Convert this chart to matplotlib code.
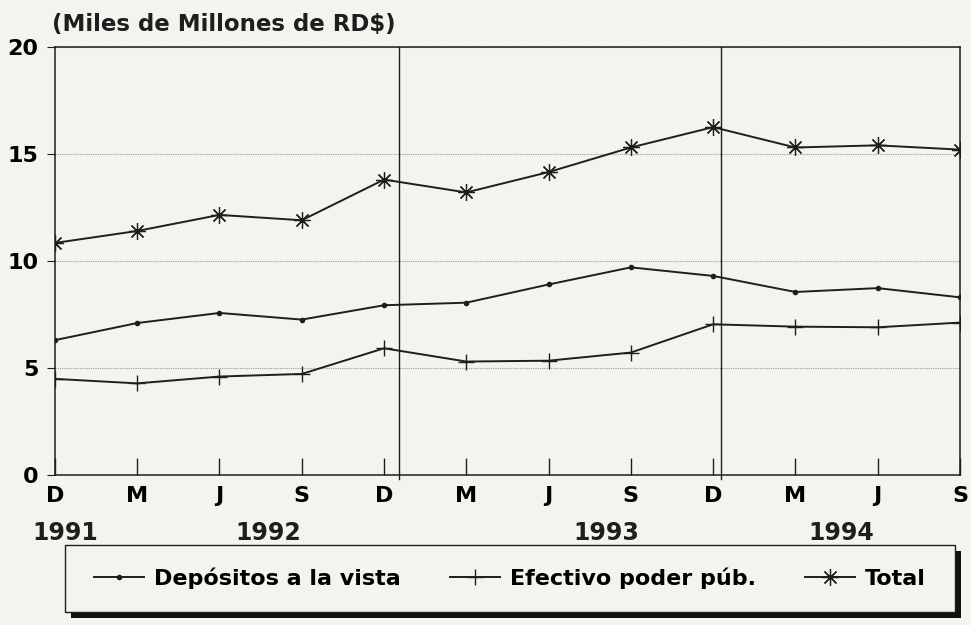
import numpy as np
import matplotlib.pyplot as plt
from matplotlib.patches import Rectangle

# months (D 1991 .. S 1994), billions of RD$
months = ['D', 'M', 'J', 'S', 'D', 'M', 'J', 'S', 'D', 'M', 'J', 'S']
years = ['1991', '1992', '1993', '1994']
year_pos = [0.12, 2.59, 6.7, 9.56]
year_sep = [4.18, 8.1]

depositos = [6.3, 7.1, 7.57, 7.26, 7.93, 8.05, 8.9, 9.7, 9.3, 8.55, 8.73, 8.3]
efectivo = [4.49, 4.28, 4.6, 4.72, 5.92, 5.3, 5.34, 5.72, 7.04, 6.93, 6.9, 7.12]
total = [10.84, 11.4, 12.15, 11.9, 13.8, 13.2, 14.15, 15.3, 16.25, 15.3, 15.4, 15.2]

paper = '#f5f3ed'
ink = '#1e1e1e'
plt.rcParams['font.family'] = ['DejaVu Sans']
plt.rcParams['font.weight'] = 'bold'

W, H = 971, 625
fig = plt.figure(figsize=(W / 100, H / 100), dpi=100, facecolor=paper)
ax = fig.add_axes([0.0566, 0.24, 0.932, 0.685])
ax.set_facecolor(paper)

x = np.arange(len(months))
ax.plot(x, depositos, color=ink, lw=1.4, marker='.', ms=6, label='Depósitos a la vista')
ax.plot(x, efectivo, color=ink, lw=1.4, marker='+', ms=11, mew=1.0, label='Efectivo poder púb.')
ax.plot(x, total, color=ink, lw=1.4, marker=(8, 2, 0), ms=12, mew=0.9, label='Total')

for s in year_sep:
    ax.axvline(s, ymin=-0.01, color=ink, lw=1.0, clip_on=False)

ax.set_xlim(0, len(months) - 1)
ax.set_ylim(0, 20)
ax.set_yticks([0, 5, 10, 15, 20])
ax.yaxis.grid(True, color='#9a9a9a', lw=0.8, ls=(0, (1, 1)))
ax.set_xticks(x)
ax.set_xticklabels(months, fontsize=16, fontweight='bold')
ax.tick_params(axis='x', direction='in', length=12, width=1.0, pad=8, color=ink)
ax.tick_params(axis='y', direction='out', length=6, width=0.8, pad=6, labelsize=16, color=ink)
for lab in ax.get_yticklabels():
    lab.set_fontweight('bold')
for sp in ax.spines.values():
    sp.set_color(ink)
    sp.set_linewidth(1.1)

for yr, p in zip(years, year_pos):
    ax.text(p, -0.135, yr, transform=ax.get_xaxis_transform(), ha='center', va='center',
            fontsize=17, fontweight='bold', color=ink)

fig.text(52 / W, 1 - 24 / H, '(Miles de Millones de RD$)', fontsize=16.5, fontweight='bold',
         color=ink, ha='left', va='center')

# legend box with a hard black shadow
bx0, bx1, by0, by1 = 65, 955, 545, 612
fig.patches.append(Rectangle((bx0 / W + 6 / W, 1 - by1 / H - 6 / H), (bx1 - bx0) / W, (by1 - by0) / H,
                             transform=fig.transFigure, facecolor='#111111', edgecolor='none', zorder=1))
fig.patches.append(Rectangle((bx0 / W, 1 - by1 / H), (bx1 - bx0) / W, (by1 - by0) / H,
                             transform=fig.transFigure, facecolor=paper, edgecolor=ink, lw=1.0, zorder=2))
leg = fig.legend(loc='center', bbox_to_anchor=((bx0 + bx1) / 2 / W, 1 - (by0 + by1) / 2 / H), ncol=3,
                 frameon=False, prop={'size': 16, 'weight': 'bold'}, handlelength=2.25,
                 columnspacing=2.2, handletextpad=0.45)
leg.set_zorder(3)

fig.savefig('out.png', dpi=100, facecolor=paper)
